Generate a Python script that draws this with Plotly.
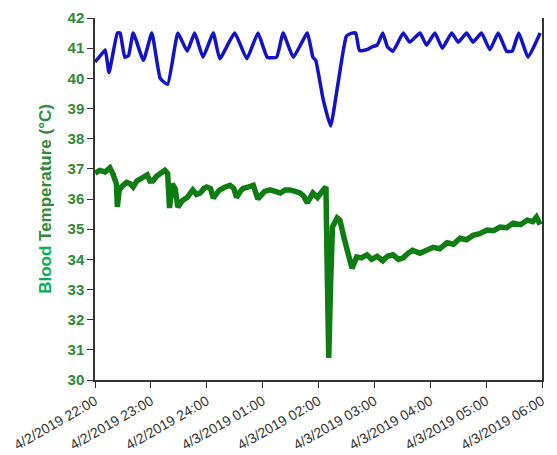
import pandas as pd
import plotly.graph_objects as go

START = pd.Timestamp("2019-04-02 22:00")

# Blue series (upper trace): minutes after 22:00 and values (left-axis units)
blue_minutes = [0, 5, 11, 15, 24, 27, 32, 36, 41, 52, 61, 70, 78, 89, 99, 107, 116, 127, 134,
                150, 163, 175, 185, 195, 202, 213, 228, 234, 237, 245, 253, 261, 270, 276, 280,
                284, 292, 298, 303, 309, 314, 320, 331, 338, 349, 356, 365, 373, 383, 390, 399,
                406, 415, 424, 433, 442, 448, 455, 465, 478]
blue_values = [40.55, 40.72, 40.94, 40.19, 41.5, 41.5, 40.7, 40.75, 41.5, 40.6, 41.5, 40.0, 39.8,
               41.5, 40.9, 41.5, 40.7, 41.5, 40.65, 41.5, 40.65, 41.5, 40.7, 40.7, 41.5, 40.7,
               41.5, 40.7, 40.6, 39.3, 38.42, 39.84, 41.4, 41.5, 41.5, 40.92, 40.95, 41.05, 41.1,
               41.5, 41.05, 40.9, 41.5, 41.2, 41.5, 41.1, 41.5, 41.0, 41.5, 41.2, 41.5, 41.2,
               41.5, 40.95, 41.5, 40.9, 40.9, 41.5, 40.7, 41.5]

# Green series: blood temperature
green_minutes = [0, 5, 11, 16, 19, 23, 24, 26, 30, 34, 38, 41, 45, 48, 52, 56, 59, 62, 66, 70,
                 75, 78, 80, 83, 86, 89, 94, 99, 105, 109, 113, 117, 120, 124, 127, 131, 134,
                 140, 145, 149, 152, 156, 159, 165, 170, 175, 179, 182, 188, 194, 199, 204, 209,
                 215, 220, 224, 228, 234, 239, 245, 248, 249, 250, 251, 253, 255, 260, 263, 268,
                 276, 281, 286, 292, 297, 303, 309, 314, 320, 326, 331, 336, 341, 349, 356, 363,
                 370, 378, 385, 392, 399, 406, 413, 421, 428, 435, 442, 449, 457, 464, 470, 474,
                 478]
green_values = [36.86, 36.95, 36.9, 37.03, 36.85, 36.5, 35.74, 36.3, 36.45, 36.55, 36.5, 36.4,
                36.6, 36.65, 36.75, 36.8, 36.6, 36.6, 36.75, 36.85, 36.95, 36.85, 35.7, 36.5,
                36.35, 35.73, 35.95, 36.05, 36.3, 36.15, 36.2, 36.35, 36.4, 36.35, 36.03, 36.2,
                36.3, 36.4, 36.45, 36.35, 36.05, 36.25, 36.35, 36.4, 36.45, 36.0, 36.15, 36.25,
                36.3, 36.25, 36.2, 36.3, 36.3, 36.25, 36.2, 36.1, 35.87, 36.2, 36.05, 36.3, 36.4,
                34.3, 32.1, 30.73, 33.2, 35.07, 35.37, 35.3, 34.64, 33.7, 34.08, 34.05, 34.15,
                34.0, 34.1, 33.95, 34.1, 34.15, 34.0, 34.05, 34.2, 34.3, 34.2, 34.3, 34.4, 34.35,
                34.55, 34.5, 34.7, 34.65, 34.8, 34.85, 34.97, 34.95, 35.07, 35.05, 35.2, 35.15,
                35.3, 35.25, 35.4, 35.15]

tick_hours = [0, 1, 2, 3, 4, 5, 6, 7, 8]
tick_labels = ["4/2/2019 22:00", "4/2/2019 23:00", "4/2/2019 24:00", "4/3/2019 01:00",
               "4/3/2019 02:00", "4/3/2019 03:00", "4/3/2019 04:00", "4/3/2019 05:00",
               "4/3/2019 06:00"]
y_ticks = [30, 31, 32, 33, 34, 35, 36, 37, 38, 39, 40, 41, 42]

def to_time(mins):
    return [START + pd.Timedelta(minutes=m) for m in mins]

fig = go.Figure()
fig.add_trace(go.Scatter(x=to_time(green_minutes), y=green_values, mode="lines",
                         line=dict(color="#0d7d12", width=5.5), showlegend=False))
fig.add_trace(go.Scatter(x=to_time(blue_minutes), y=blue_values, mode="lines",
                         line=dict(color="#1212c6", width=3.5, shape="spline", smoothing=0.4),
                         showlegend=False))

# page body adds an 8px offset, so the figure is sized to fill the rest of the window
fig.update_layout(
    width=549, height=447,
    margin=dict(l=87, r=15, t=10, b=75),
    paper_bgcolor="white", plot_bgcolor="white",
    font=dict(family="Liberation Sans, Arial, sans-serif"),
)
fig.update_xaxes(
    automargin=False,
    range=[START, START + pd.Timedelta(hours=8)],
    tickvals=[START + pd.Timedelta(hours=h) for h in tick_hours],
    ticktext=tick_labels, tickangle=-30,
    tickfont=dict(size=14, color="#333333"),
    showgrid=False, zeroline=False,
    showline=True, linecolor="#333333", linewidth=1.5,
    ticks="outside", ticklen=6, tickcolor="#333333",
)
fig.update_yaxes(
    automargin=False,
    range=[30, 42], tickvals=y_ticks,
    ticktext=[f"<b>{v}</b>" for v in y_ticks],
    tickfont=dict(size=15, color="#2e8b35"),
    showgrid=False, zeroline=False,
    showline=True, linecolor="#333333", linewidth=1.5, mirror=True,
    ticks="outside", ticklen=6, tickcolor="#333333",
    title=dict(text="<b><span style='color:#00b050'>Blood</span> Temperature (°C)</b>",
               font=dict(size=17, color="#2e8b35"), standoff=12),
)
fig.write_html("out.html")
